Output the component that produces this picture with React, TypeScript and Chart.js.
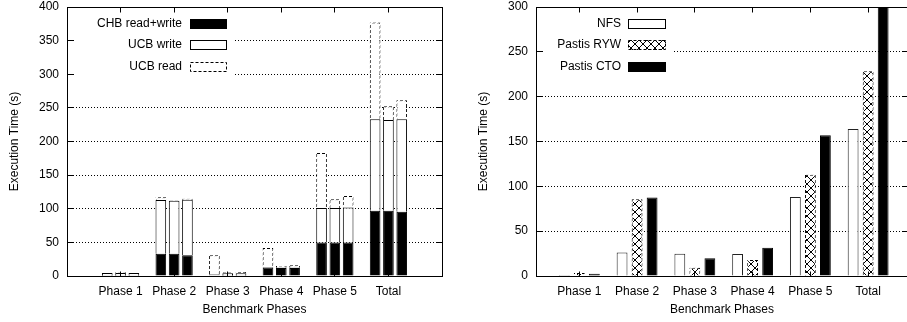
import React, { useEffect, useRef } from 'react';
import { Chart, registerables } from 'chart.js';
Chart.register(...registerables);

const FONT = '"Liberation Sans", Arial, Helvetica, sans-serif';
Chart.defaults.font.family = FONT;
Chart.defaults.font.size = 12;
Chart.defaults.color = '#000';

const categories = ['Phase 1', 'Phase 2', 'Phase 3', 'Phase 4', 'Phase 5', 'Total'];
const categoryX = [1, 2, 3, 4, 5, 6];

// Left chart: three stacked bars per phase
const chbReadWrite1 = [0.3, 33, 1, 12.5, 50, 97];
const ucbWrite1 = [4, 80, 1.5, 1, 51, 136];
const ucbRead1 = [0.3, 4, 28.5, 28, 82, 144];
const chbReadWrite2 = [0.3, 33, 0.5, 12, 50, 97];
const ucbWrite2 = [4.2, 79, 3.5, 1, 51, 135];
const ucbRead2 = [1.2, 0.5, 1.5, 2, 13, 20.5];
const chbReadWrite3 = [0.3, 31, 0.5, 12, 50, 95.5];
const ucbWrite3 = [4, 82.5, 3.5, 1, 52, 137.5];
const ucbRead3 = [0.2, 1.5, 2, 3, 17, 28.5];

// Right chart: grouped bars
const nfs = [1, 26.3, 24.8, 24.5, 88, 164];
const pastisRyw = [3.3, 85.6, 9.3, 17.8, 113, 228.4];
const pastisCto = [2.6, 87.5, 19.7, 31.5, 157, 300];

const leftYMax = 400;
const rightYMax = 300;
const yStep = 50;
const yTitle = 'Execution Time (s)';
const xTitle = 'Benchmark Phases';

const toPoints = (vals: number[]) => vals.map((y, i) => ({ x: categoryX[i], y }));

function makeDashPattern(ctx: CanvasRenderingContext2D) {
  const c = document.createElement('canvas');
  c.width = 5; c.height = 5;
  const g = c.getContext('2d')!;
  g.fillStyle = '#000';
  for (let y = 0; y < 5; y++) for (let x = 0; x < 5; x++) if ((x + y) % 5 < 3) g.fillRect(x, y, 1, 1);
  return ctx.createPattern(c, 'repeat')!;
}

function makeCrossPattern(ctx: CanvasRenderingContext2D) {
  const c = document.createElement('canvas');
  c.width = 8; c.height = 8;
  const g = c.getContext('2d')!;
  g.fillStyle = '#fff';
  g.fillRect(0, 0, 8, 8);
  g.fillStyle = '#000';
  for (let i = 0; i < 8; i++) { g.fillRect(i, i, 1, 1); g.fillRect(7 - i, i, 1, 1); }
  return ctx.createPattern(c, 'repeat')!;
}

const align = (p: number) => Math.round(p - 0.5) + 0.5;

const framePlugin = {
  id: 'gnuFrame',
  afterDraw(chart: any) {
    const { ctx, chartArea: a, scales } = chart;
    const y = scales.y, x = scales.x;
    const L = align(a.left), R = align(a.right);
    const T = align(y.getPixelForValue(y.max)), B = align(y.getPixelForValue(0));
    ctx.save();
    ctx.strokeStyle = '#000';
    ctx.lineWidth = 1;
    ctx.setLineDash([]);
    ctx.beginPath();
    for (const t of y.ticks) {
      const py = align(y.getPixelForValue(t.value));
      ctx.moveTo(L, py); ctx.lineTo(L + 6, py);
      ctx.moveTo(R, py); ctx.lineTo(R - 6, py);
    }
    for (const v of categoryX) {
      const px = align(x.getPixelForValue(v));
      ctx.moveTo(px, T); ctx.lineTo(px, T + 5);
      ctx.moveTo(px, B); ctx.lineTo(px, B - 5);
    }
    ctx.stroke();
    ctx.strokeRect(L, T, R - L, B - T);
    ctx.restore();
  },
};

type LegendItem = { label: string; fill: string | CanvasPattern; dashed: boolean; y: number };

function legendPlugin(items: () => LegendItem[], box: { x1: number; y1: number; textRight: number; swX: number; swW: number }) {
  return {
    id: 'gnuLegend',
    afterDatasetsDraw(chart: any) {
      const { ctx, chartArea: a } = chart;
      ctx.save();
      ctx.fillStyle = '#fff';
      ctx.fillRect(a.left + 7, a.top + 1, box.x1 - a.left - 7, box.y1 - a.top - 1);
      ctx.font = `12px ${FONT}`;
      ctx.textAlign = 'right';
      ctx.textBaseline = 'middle';
      for (const it of items()) {
        ctx.fillStyle = '#000';
        ctx.fillText(it.label, box.textRight, it.y);
        const sx = box.swX, sy = Math.round(it.y - 5), w = box.swW, h = 10;
        ctx.fillStyle = it.fill as any;
        ctx.fillRect(sx, sy, w, h);
        ctx.strokeStyle = '#000';
        ctx.lineWidth = 1;
        ctx.setLineDash(it.dashed ? [3, 2] : []);
        ctx.strokeRect(sx + 0.5, sy + 0.5, w - 1, h - 1);
      }
      ctx.restore();
    },
  };
}

function baseOptions(opts: { yMax: number; yWidth: number; titlePad: number; xMin: number; xMax: number; padRight: number; stacked: boolean; catPct: number; barPct: number }) {
  return {
    responsive: false,
    animation: false as const,
    events: [],
    layout: { padding: { left: 0, top: 7, right: opts.padRight, bottom: 0 } },
    plugins: { legend: { display: false }, tooltip: { enabled: false }, title: { display: false } },
    datasets: { bar: { categoryPercentage: opts.catPct, barPercentage: opts.barPct } },
    scales: {
      x: {
        type: 'linear' as const,
        min: opts.xMin,
        max: opts.xMax,
        offset: false,
        bounds: 'data' as const,
        grid: { display: false, offset: false },
        border: { display: false },
        afterBuildTicks: (axis: any) => { axis.ticks = categoryX.map((v) => ({ value: v })); },
        afterFit: (scale: any) => { scale.height = 46; scale.paddingLeft = 0; scale.paddingRight = 0; },
        ticks: {
          autoSkip: false,
          maxRotation: 0,
          padding: 0,
          font: { size: 12, family: FONT },
          color: '#000',
          callback: (v: any) => categories[categoryX.indexOf(Number(v))] ?? '',
        },
        title: { display: true, text: xTitle, color: '#000', font: { size: 12, family: FONT }, padding: { top: 0, bottom: 5 } },
      },
      y: {
        min: 0,
        max: opts.yMax,
        stacked: opts.stacked,
        afterFit: (scale: any) => { scale.width = opts.yWidth; scale.paddingTop = 0; scale.paddingBottom = 0; },
        grid: { color: '#000', lineWidth: 1, drawTicks: false },
        border: { display: false, dash: [1, 2] },
        ticks: { stepSize: yStep, padding: 8, color: '#000', font: { size: 12, family: FONT } },
        title: { display: true, text: yTitle, color: '#000', font: { size: 12, family: FONT }, padding: { top: opts.titlePad, bottom: 0 } },
      },
    },
  };
}

export default function App() {
  const leftRef = useRef<HTMLCanvasElement>(null);
  const rightRef = useRef<HTMLCanvasElement>(null);

  useEffect(() => {
    const lctx = leftRef.current!.getContext('2d')!;
    const rctx = rightRef.current!.getContext('2d')!;
    const dashL = makeDashPattern(lctx);
    const dashR = makeDashPattern(rctx);
    const cross = makeCrossPattern(rctx);

    const seg = (label: string, data: number[], stack: string, kind: 'chb' | 'write' | 'read') => ({
      label,
      data: toPoints(data),
      stack,
      backgroundColor: kind === 'chb' ? '#000' : '#fff',
      borderColor: kind === 'read' ? dashL : '#000',
      borderWidth: 1,
      borderSkipped: 'start',
    });

    const left = new Chart(lctx, {
      type: 'bar',
      data: {
        datasets: [
          seg('CHB read+write', chbReadWrite1, 'a', 'chb'),
          seg('UCB write', ucbWrite1, 'a', 'write'),
          seg('UCB read', ucbRead1, 'a', 'read'),
          seg('CHB read+write', chbReadWrite2, 'b', 'chb'),
          seg('UCB write', ucbWrite2, 'b', 'write'),
          seg('UCB read', ucbRead2, 'b', 'read'),
          seg('CHB read+write', chbReadWrite3, 'c', 'chb'),
          seg('UCB write', ucbWrite3, 'c', 'write'),
          seg('UCB read', ucbRead3, 'c', 'read'),
        ] as any,
      },
      options: baseOptions({ yMax: leftYMax, yWidth: 67, titlePad: 7, xMin: 0, xMax: 7, padRight: 13, stacked: true, catPct: 0.745, barPct: 0.8 }) as any,
      plugins: [
        legendPlugin(() => [
          { label: 'CHB read+write', fill: '#000', dashed: false, y: 23.5 },
          { label: 'UCB write', fill: '#fff', dashed: false, y: 44.5 },
          { label: 'UCB read', fill: '#fff', dashed: true, y: 66.5 },
        ], { x1: 235, y1: 80, textRight: 182, swX: 190, swW: 37 }),
        framePlugin,
      ],
    });

    const right = new Chart(rctx, {
      type: 'bar',
      data: {
        datasets: [
          { label: 'NFS', data: toPoints(nfs), backgroundColor: '#fff', borderColor: '#222', borderWidth: 1, borderSkipped: 'start' },
          { label: 'Pastis RYW', data: toPoints(pastisRyw), backgroundColor: cross, borderColor: dashR, borderWidth: 1, borderSkipped: 'start' },
          { label: 'Pastis CTO', data: toPoints(pastisCto), backgroundColor: '#000', borderColor: '#000', borderWidth: 1, borderSkipped: 'start' },
        ] as any,
      },
      options: baseOptions({ yMax: rightYMax, yWidth: 81, titlePad: 21, xMin: 0.25, xMax: 6.69, padRight: 3, stacked: false, catPct: 0.78, barPct: 0.72 }) as any,
      plugins: [
        legendPlugin(() => [
          { label: 'NFS', fill: '#fff', dashed: false, y: 23.5 },
          { label: 'Pastis RYW', fill: cross, dashed: true, y: 44.5 },
          { label: 'Pastis CTO', fill: '#000', dashed: true, y: 66.5 },
        ], { x1: 217, y1: 82, textRight: 166, swX: 173, swW: 38 }),
        framePlugin,
      ],
    });

    return () => { left.destroy(); right.destroy(); };
  }, []);

  return (
    <div style={{ position: 'fixed', left: 0, top: 0, width: 907, height: 322, overflow: 'hidden', background: '#fff' }}>
      <canvas ref={leftRef} width={455} height={322} style={{ position: 'absolute', left: 0, top: 0, width: 455, height: 322 }} />
      <canvas ref={rightRef} width={456} height={322} style={{ position: 'absolute', left: 455, top: 0, width: 456, height: 322 }} />
    </div>
  );
}
